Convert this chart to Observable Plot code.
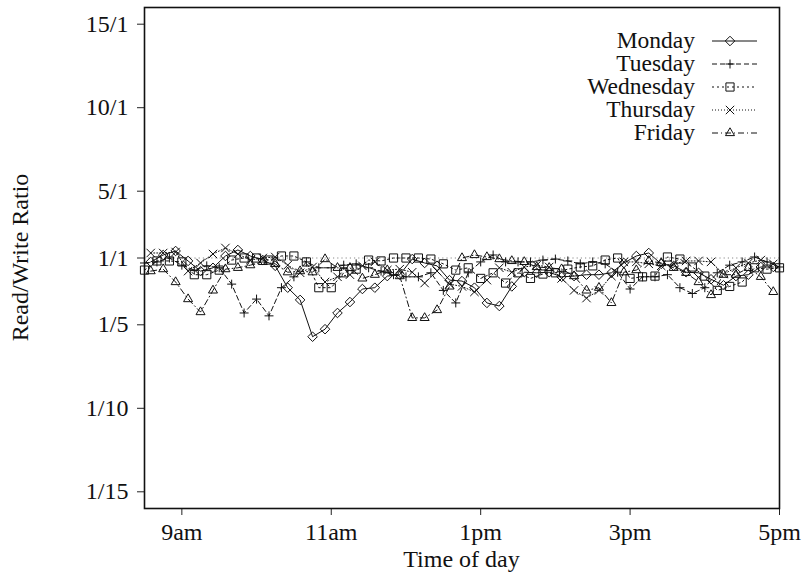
<!DOCTYPE html>
<html>
<head>
<meta charset="utf-8">
<script src="https://cdn.jsdelivr.net/npm/d3@7"></script>
<script src="https://cdn.jsdelivr.net/npm/@observablehq/plot@0.6"></script>
<style>
  html, body { margin: 0; padding: 0; background: #fff; }
  #chart svg { display: block; }
</style>
</head>
<body>
<div id="chart"></div>
<script>
// Read/write ratio sampled every 10 minutes through the working day.
const days = ["Monday", "Tuesday", "Wednesday", "Thursday", "Friday"];

// first sample of each day, in minutes after midnight
const startMinutes = [515, 510, 510, 515, 515];
const stepMinutes = 10;

// reads per write
const monday = [0.81, 1.18, 1.42, 0.85, 0.56, 0.63, 1.12, 1.48, 1.12, 0.89, 0.68, 0.36, 0.285, 0.175, 0.19, 0.233, 0.275,
  0.35, 0.36, 0.48, 0.50, 0.94, 0.77, 0.68, 0.43, 0.42, 0.36, 0.271, 0.258, 0.37, 0.54, 0.53, 0.54, 0.47, 0.48, 0.50,
  0.50, 0.53, 0.77, 1.12, 1.30, 0.74, 0.68, 0.54, 0.53, 0.44, 0.38, 0.48, 0.50, 0.65, 0.65];
const tuesday = [0.77, 0.81, 1.00, 0.70, 0.58, 0.68, 0.63, 0.39, 0.233, 0.289, 0.224, 0.36, 0.47, 0.81, 0.63, 0.63, 0.70,
  0.74, 0.63, 0.56, 0.50, 0.47, 0.47, 0.53, 0.34, 0.271, 0.53, 0.81, 1.18, 0.81, 0.81, 0.81, 0.89, 0.94, 0.85, 0.74,
  0.81, 0.74, 0.54, 0.35, 0.47, 0.47, 0.50, 0.36, 0.32, 0.36, 0.53, 0.70, 0.81, 1.06, 0.81, 0.65];
const wednesday = [0.58, 0.85, 0.85, 0.81, 0.50, 0.50, 0.58, 0.89, 1.00, 1.00, 0.89, 1.12, 1.12, 0.81, 0.36, 0.36, 0.53,
  0.60, 0.89, 0.85, 1.00, 1.00, 1.00, 0.94, 0.74, 0.58, 0.63, 0.45, 0.53, 0.40, 0.53, 0.45, 0.51, 0.53, 0.60, 0.65,
  0.68, 0.89, 1.00, 0.45, 0.47, 0.48, 1.06, 0.94, 0.65, 0.48, 0.34, 0.37, 0.41, 0.63, 0.60, 0.63];
const thursday = [1.30, 1.30, 1.36, 0.56, 0.77, 1.24, 1.60, 1.24, 0.89, 1.00, 1.06, 0.70, 0.53, 0.65, 0.41, 0.47, 0.50,
  0.68, 0.81, 0.58, 0.60, 0.54, 0.40, 0.56, 0.39, 0.37, 0.33, 0.43, 0.63, 0.54, 0.65, 0.70, 0.65, 0.45, 0.34, 0.294,
  0.34, 0.48, 0.81, 0.81, 0.74, 0.68, 0.74, 0.85, 0.85, 0.81, 0.51, 0.63, 0.77, 0.89, 0.74];
const friday = [0.56, 0.60, 0.41, 0.289, 0.236, 0.34, 0.60, 0.63, 0.70, 0.81, 0.74, 0.54, 0.56, 0.54, 0.94, 0.63, 0.63,
  0.45, 0.50, 0.58, 0.48, 0.218, 0.218, 0.243, 0.37, 1.00, 1.18, 1.06, 0.94, 0.85, 0.81, 0.65, 0.63, 0.60, 0.48, 0.34,
  0.36, 0.271, 0.54, 0.58, 0.85, 0.77, 0.63, 0.53, 0.41, 0.311, 0.50, 0.50, 0.63, 0.47, 0.33];
const series = [monday, tuesday, wednesday, thursday, friday];

// axis ticks
const xTicks = [9, 11, 13, 15, 17];
const xTickLabels = ["9am", "11am", "1pm", "3pm", "5pm"];
const yTicks = [1 / 15, 1 / 10, 1 / 5, 1, 5, 10, 15];
const yTickLabels = ["1/15", "1/10", "1/5", "1/1", "5/1", "10/1", "15/1"];

// per-day drawing style
const symbols = ["diamond2", "plus", "square2", "times", "triangle2"];
const d3Symbols = [d3.symbolDiamond2, d3.symbolPlus, d3.symbolSquare2, d3.symbolTimes, d3.symbolTriangle2];
const symbolRadius = [4.3, 3.0, 5.2, 3.9, 4.3];
const dashes = [null, "5,3", "2,3", "1,2", "6,3,1,3"];

// symmetric ratio axis: n/1 sits n-1 above the centre, 1/n sits n-1 below it
const toAxis = r => (r >= 1 ? r - 1 : 1 - 1 / r);

const rows = [];
series.forEach((vals, j) => {
  vals.forEach((r, i) => {
    rows.push({day: days[j], t: (startMinutes[j] + i * stepMinutes) / 60, ratio: r});
  });
});

const yLabelOf = new Map(yTicks.map((t, i) => [toAxis(t), yTickLabels[i]]));
const xLabelOf = new Map(xTicks.map((t, i) => [t, xTickLabels[i]]));

const font = "'Liberation Serif', 'Times New Roman', serif";

const marks = [
  Plot.ruleY([0], {stroke: "#8a8a8a", strokeWidth: 1, strokeDasharray: "1.2,3"}),
];
days.forEach((day, j) => {
  const data = rows.filter(d => d.day === day);
  marks.push(Plot.line(data, {
    x: "t", y: d => toAxis(d.ratio), stroke: "#111", strokeWidth: 1,
    strokeDasharray: dashes[j], curve: "linear", clip: "frame"
  }));
  marks.push(Plot.dot(data, {
    x: "t", y: d => toAxis(d.ratio), symbol: () => symbols[j], r: symbolRadius[j],
    stroke: "#111", strokeWidth: 1, fill: "none"
  }));
});
marks.push(
  Plot.axisY({ticks: yTicks.map(toAxis), tickFormat: v => yLabelOf.get(v), tickSize: 7, tickPadding: 9, label: null, stroke: "#222"}),
  Plot.axisX({ticks: xTicks, tickFormat: v => xLabelOf.get(v), tickSize: 7, tickPadding: 7, label: null, stroke: "#222"}),
  Plot.frame({stroke: "#111", strokeWidth: 1.6})
);

const chart = Plot.plot({
  width: 806,
  height: 577,
  marginLeft: 144,
  marginRight: 27,
  marginTop: 7,
  marginBottom: 69,
  style: {fontFamily: font, fontSize: "24px", color: "#111", background: "#fff"},
  x: {domain: [8.5, 17]},
  y: {domain: [-15, 15]},
  symbol: {type: "identity"},
  marks
});

document.getElementById("chart").append(chart);

// axis titles and key
const svg = d3.select(chart);
svg.append("text")
  .attr("x", 461.5).attr("y", 567)
  .attr("text-anchor", "middle")
  .attr("fill", "#111")
  .text("Time of day");
svg.append("text")
  .attr("transform", "translate(28,257.5) rotate(-90)")
  .attr("text-anchor", "middle")
  .attr("fill", "#111")
  .text("Read/Write Ratio");

const key = svg.append("g").attr("class", "key");
days.forEach((day, j) => {
  const base = 48 + j * 23;
  const cy = base - 7;
  key.append("text")
    .attr("x", 695).attr("y", base)
    .attr("text-anchor", "end")
    .attr("fill", "#111")
    .attr("font-size", "23.5px")
    .text(day);
  key.append("line")
    .attr("x1", 712).attr("x2", 757).attr("y1", cy).attr("y2", cy)
    .attr("stroke", "#111").attr("stroke-width", 1)
    .attr("stroke-dasharray", dashes[j]);
  key.append("path")
    .attr("transform", `translate(730,${cy})`)
    .attr("d", d3.symbol(d3Symbols[j], Math.PI * symbolRadius[j] ** 2)())
    .attr("fill", "none").attr("stroke", "#111").attr("stroke-width", 1);
});
</script>
</body>
</html>
